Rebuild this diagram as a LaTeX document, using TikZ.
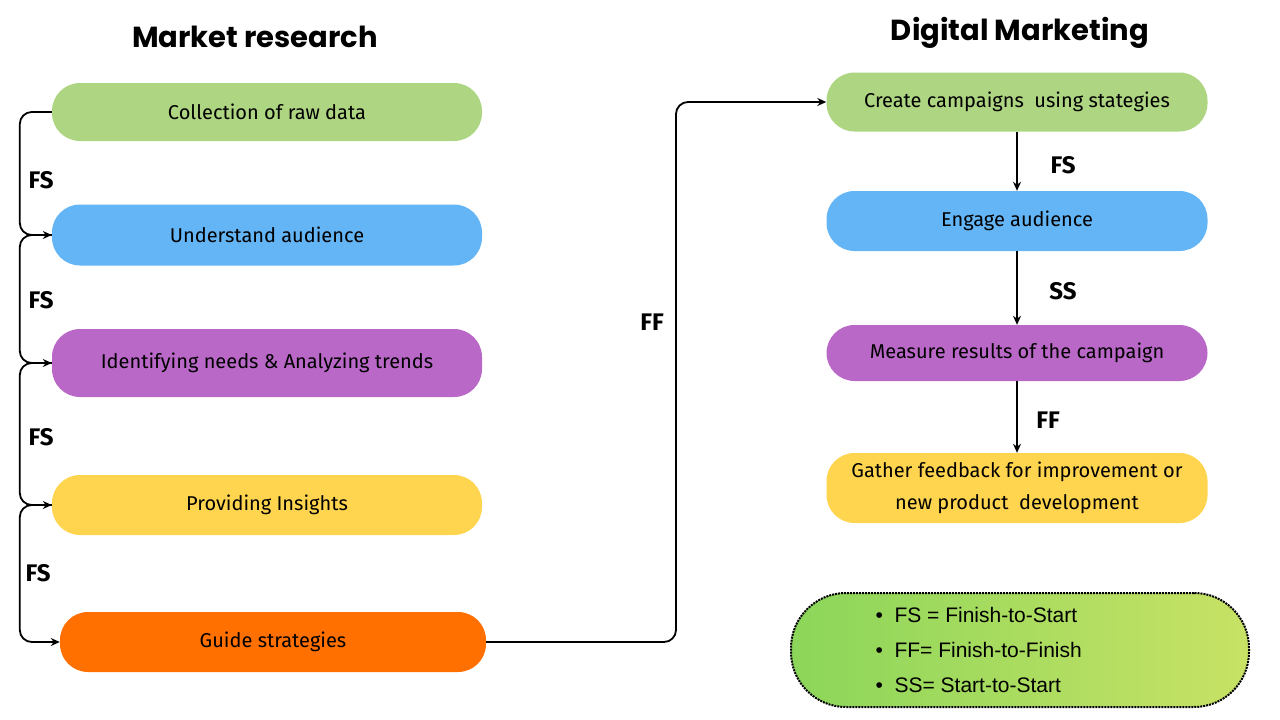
\documentclass[tikz,border=0pt]{standalone}
\usepackage{fontspec}
\setmainfont{Fira Sans}
\newfontfamily\titlefont{Poppins}
\newfontfamily\legfont{Liberation Sans}
\usetikzlibrary{positioning,calc,arrows.meta}

\definecolor{boxgreen}{HTML}{AED581}
\definecolor{boxblue}{HTML}{64B5F6}
\definecolor{boxpurple}{HTML}{BA68C8}
\definecolor{boxyellow}{HTML}{FFD54F}
\definecolor{boxorange}{HTML}{FF7000}
\definecolor{legleft}{HTML}{8BD65A}
\definecolor{legright}{HTML}{C8E265}

\tikzset{
  task/.style = {draw = none, minimum width = 430pt, minimum height = 58pt, rounded corners = 28pt, font = \fontsize{20}{24}\selectfont, align = center, inner sep = 2pt},
  rtask/.style = {task, minimum width = 381pt},
  link/.style = {line width = 1.8pt, -{Stealth[length=9pt, width=8pt]}, rounded corners = 12pt},
  lag/.style = {font = \bfseries\fontsize{24}{28}\selectfont}
}

\begin{document}
\begin{tikzpicture}[x=1pt, y=-1pt]

\useasboundingbox (0,0) rectangle (1280,720);

\node[font = \titlefont\bfseries\fontsize{29}{34}\selectfont] (mtitle) at (255,37) {Market research};
\node[font = \titlefont\bfseries\fontsize{29}{34}\selectfont] (dtitle) at (1020,33) {Digital Marketing};

%%%%%%%%%%%%%%%%%%%%%%%%%%%%%%%%

\node[task, fill = boxgreen] (collect) at (267,112) {Collection of raw data};
\node[task, fill = boxblue, minimum height = 61pt] (audience) at (267,235) {Understand audience};
\node[task, fill = boxpurple, minimum height = 68pt] (needs) at (267,363) {Identifying needs \& Analyzing trends};
\node[task, fill = boxyellow, minimum height = 60pt] (insights) at (267,505) {Providing Insights};
\node[task, fill = boxorange, minimum width = 426pt, minimum height = 60pt] (guide) at (273,642) {Guide strategies};

\draw[link] (collect.west) -- ++(-32,0) |- (audience.west);
\draw[link] (audience.west) -- ++(-32,0) |- (needs.west);
\draw[link] (needs.west) -- ++(-32,0) |- (insights.west);
\draw[link] (insights.west) -- ++(-32,0) |- (guide.west);

\node[lag] (fs1) at (41,180) {FS};
\node[lag] (fs2) at (41,300) {FS};
\node[lag] (fs3) at (41,437) {FS};
\node[lag] (fs4) at (38,573) {FS};

%%%%%%%%%%%%%%%%%%%%%%%%%%%%%%%%

\node[rtask, fill = boxgreen, minimum height = 59pt] (campaign) at (1017,102) {Create campaigns\ \ using stategies};
\node[rtask, fill = boxblue, minimum height = 60pt] (engage) at (1017,221) {Engage audience};
\node[rtask, fill = boxpurple, minimum height = 56pt] (measure) at (1017,353) {Measure results of the campaign};
\node[rtask, fill = boxyellow, minimum height = 70pt, font = \fontsize{20}{32}\selectfont] (feedback) at (1017,488) {Gather feedback for improvement or\\ new product\ \ development};

\draw[link] (guide.east) -- (676,642) |- (campaign.west);
\node[lag] (ff1) at (652,322) {FF};

\draw[link] (campaign.south) -- (engage.north);
\draw[link] (engage.south) -- (measure.north);
\draw[link] (measure.south) -- (feedback.north);

\node[lag] (fs5) at (1063,165) {FS};
\node[lag] (ss1) at (1063,291) {SS};
\node[lag] (ff2) at (1048,420) {FF};

%%%%%%%%%%%%%%%%%%%%%%%%%%%%%%%%

\node[draw, densely dotted, line width = 2pt, left color = legleft, right color = legright, minimum width = 458pt, minimum height = 114pt, rounded corners = 55pt] (legend) at (1020,650) {};
\node[font = \legfont\fontsize{21}{35}\selectfont, align = left, anchor = west] (legtext) at (872,650) {\textbullet\ \ FS = Finish-to-Start\\ \textbullet\ \ FF= Finish-to-Finish\\ \textbullet\ \ SS= Start-to-Start};

\end{tikzpicture}
\end{document}
